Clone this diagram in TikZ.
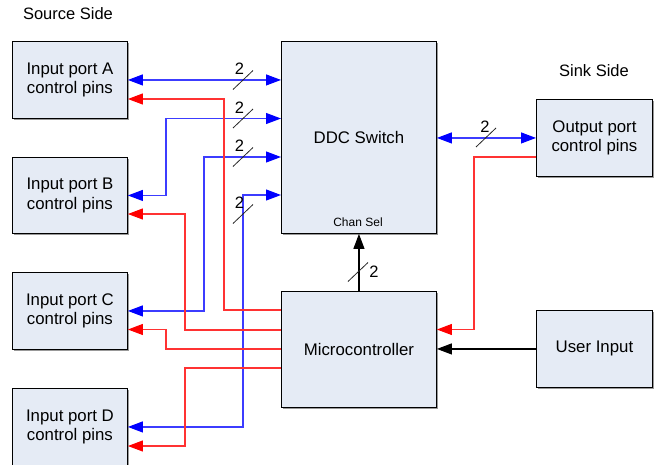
\documentclass[tikz,border=0pt]{standalone}
\usepackage{fontspec}
\setmainfont{Liberation Sans}
\usetikzlibrary{arrows.meta,shadows}
\definecolor{boxfill}{RGB}{229,235,245}
\definecolor{lineblue}{RGB}{60,60,255}
\definecolor{linered}{RGB}{255,50,50}
\begin{document}
\begin{tikzpicture}[x=1pt,y=-1pt,
  box/.style={draw=black, fill=boxfill, line width=0.9pt, align=center, inner sep=0pt,
    anchor=north west, font=\fontsize{16.8}{19.5}\selectfont,
    drop shadow={shadow xshift=1.3pt, shadow yshift=-1.3pt, fill=black!50, opacity=0.8}},
  bbi/.style={draw=lineblue, line width=1.1pt, {Triangle[length=15pt,width=11pt,color=blue]}-{Triangle[length=15pt,width=11pt,color=blue]}},
  rarr/.style={draw=linered, line width=1.05pt, -{Triangle[length=15pt,width=11pt,color=red]}},
  karr/.style={draw=black, line width=1.1pt, -{Triangle[length=15pt,width=11pt]}},
  slashline/.style={draw=black!85, line width=0.8pt},
  lab/.style={font=\fontsize{16.5}{18}\selectfont, inner sep=0pt},
  side/.style={font=\fontsize{16.5}{18}\selectfont, inner sep=0pt}
]
\useasboundingbox (0,0) rectangle (656,464);

% boxes
\node[box, minimum width=115pt, minimum height=77pt] (A) at (12,41) {Input port A\\control pins};
\node[box, minimum width=115pt, minimum height=76pt] (B) at (12,157) {Input port B\\control pins};
\node[box, minimum width=115pt, minimum height=77pt] (C) at (12,272) {Input port C\\control pins};
\node[box, minimum width=115pt, minimum height=77pt] (D) at (12,388) {Input port D\\control pins};
\node[box, minimum width=155pt, minimum height=192pt] (DDC) at (281,41) {DDC Switch};
\node[box, minimum width=155pt, minimum height=116pt] (Micro) at (281,291) {Microcontroller};
\node[box, minimum width=116pt, minimum height=77pt] (Out) at (536,99) {Output port\\control pins};
\node[box, minimum width=116pt, minimum height=77pt] (User) at (536,310) {User Input};

\node[side] (src) at (68,14) {Source Side};
\node[side] (sink) at (594,71) {Sink Side};
\node[font=\fontsize{12}{13}\selectfont, inner sep=0pt] (cs) at (358,222) {Chan Sel};

% turning points
\coordinate (tB) at (166,118.5);
\coordinate (tC) at (204,157);
\coordinate (tD) at (243,195);
\coordinate (rA) at (224,310);
\coordinate (rB) at (185,330);
\coordinate (rC) at (166,349);
\coordinate (rD) at (185,368);
\coordinate (rO) at (474,157);
\coordinate (yA) at (0,99);
\coordinate (yB) at (0,214);
\coordinate (yC) at (0,329.5);
\coordinate (yD) at (0,446);
\coordinate (yO) at (0,329.5);

% blue bidirectional links
\draw[bbi] (A.east) -- (A.east -| DDC.west);
\draw[bbi] (B.east) -| (tB) -- (tB -| DDC.west);
\draw[bbi] (C.east) -| (tC) -- (tC -| DDC.west);
\draw[bbi] (D.east) -| (tD) -- (tD -| DDC.west);
\draw[bbi] (DDC.east |- Out.west) -- (Out.west);

% red links
\draw[rarr] (Micro.west |- rA) -- (rA) |- (A.east |- yA);
\draw[rarr] (Micro.west |- rB) -- (rB) |- (B.east |- yB);
\draw[rarr] (Micro.west |- rC) -- (rC) |- (C.east |- yC);
\draw[rarr] (Micro.west |- rD) -- (rD) |- (D.east |- yD);
\draw[rarr] (Out.west |- rO) -- (rO) |- (Micro.east |- yO);

% black links
\draw[karr] (User.west) -- (Micro.east |- User.west);
\draw[karr] (Micro.north) -- (DDC.south);

% bus width marks
\coordinate (s1) at (243,80);
\coordinate (s2) at (243,118.5);
\coordinate (s3) at (243,157);
\coordinate (s4) at (243,214);
\coordinate (s5) at (486,137.5);
\coordinate (s6) at (358,272);
\foreach \s in {s1,s2,s3,s4,s5,s6}
  \draw[slashline, shift={(\s)}] (-10,9.5) -- (10,-9.5);
\node[lab] (n1) at (239.5,69) {2};
\node[lab] (n2) at (239.5,107.5) {2};
\node[lab] (n3) at (239.5,146) {2};
\node[lab] (n4) at (239.5,203) {2};
\node[lab] (n5) at (485,127) {2};
\node[lab] (n6) at (374,272) {2};
\end{tikzpicture}
\end{document}
